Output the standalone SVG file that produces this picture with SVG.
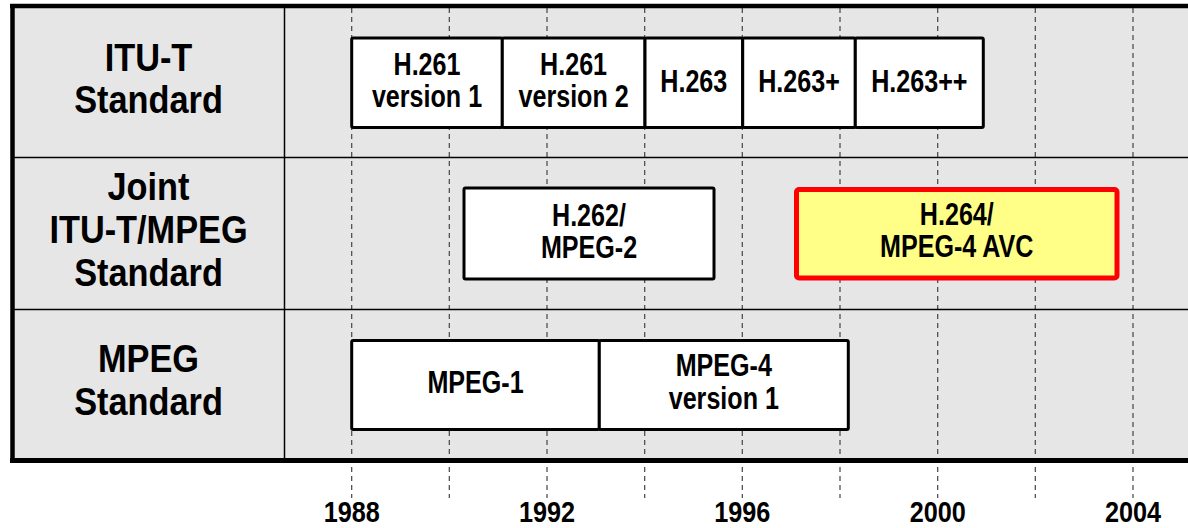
<svg xmlns="http://www.w3.org/2000/svg" width="1188" height="528" viewBox="0 0 1188 528">
<style>
.t{font-family:"Liberation Sans",Arial,sans-serif;font-weight:bold;fill:#000;text-anchor:middle}
.lab{font-size:39px}
.bx{font-size:31px}
.yr{font-size:29px}
.box{fill:#fff;stroke:#000;stroke-width:3}
.grid{stroke:#444;stroke-width:1.2;stroke-dasharray:5 4;fill:none}
.rule{stroke:#000;stroke-width:1.5;fill:none}
</style>
<rect x="13" y="6" width="1175" height="454" fill="#e6e6e6"/>
<g id="gridlines">
<line class="grid" x1="351.7" y1="8" x2="351.7" y2="498"/>
<line class="grid" x1="449.3" y1="8" x2="449.3" y2="498"/>
<line class="grid" x1="547" y1="8" x2="547" y2="498"/>
<line class="grid" x1="644.7" y1="8" x2="644.7" y2="498"/>
<line class="grid" x1="742.3" y1="8" x2="742.3" y2="498"/>
<line class="grid" x1="840" y1="8" x2="840" y2="498"/>
<line class="grid" x1="937.7" y1="8" x2="937.7" y2="498"/>
<line class="grid" x1="1035.3" y1="8" x2="1035.3" y2="498"/>
<line class="grid" x1="1133" y1="8" x2="1133" y2="498"/>
</g>
<g id="frame">
<line class="rule" x1="13" y1="157.5" x2="1188" y2="157.5"/>
<line class="rule" x1="13" y1="309.5" x2="1188" y2="309.5"/>
<line class="rule" x1="284.5" y1="8" x2="284.5" y2="460"/>
<line x1="10" y1="6" x2="1188" y2="6" stroke="#000" stroke-width="4.5"/>
<line x1="10" y1="460.5" x2="1188" y2="460.5" stroke="#000" stroke-width="5"/>
<line x1="12.5" y1="4" x2="12.5" y2="463" stroke="#000" stroke-width="4.5"/>
</g>
<g id="row-labels">
<text class="t lab" transform="matrix(0.88,0,0,1,148.5,0)"><tspan x="0" y="71">ITU-T</tspan><tspan x="0" y="113">Standard</tspan></text>
<text class="t lab" transform="matrix(0.88,0,0,1,148.5,0)"><tspan x="0" y="200">Joint</tspan><tspan x="0" y="243">ITU-T/MPEG</tspan><tspan x="0" y="286">Standard</tspan></text>
<text class="t lab" transform="matrix(0.88,0,0,1,148.5,0)"><tspan x="0" y="372">MPEG</tspan><tspan x="0" y="415">Standard</tspan></text>
</g>
<g id="h261v1">
<rect class="box" x="351.7" y="38" width="150.6" height="89.5" rx="1.5"/>
<text class="t bx" transform="matrix(0.81,0,0,1,427,0)"><tspan x="0" y="75">H.261</tspan><tspan x="0" y="107.5">version 1</tspan></text>
</g>
<g id="h261v2">
<rect class="box" x="502.3" y="38" width="142.7" height="89.5" rx="1.5"/>
<text class="t bx" transform="matrix(0.81,0,0,1,573.6,0)"><tspan x="0" y="75">H.261</tspan><tspan x="0" y="107.5">version 2</tspan></text>
</g>
<g id="h263">
<rect class="box" x="645" y="38" width="97.7" height="89.5" rx="1.5"/>
<text class="t bx" transform="matrix(0.81,0,0,1,693.8,0)" x="0" y="92">H.263</text>
</g>
<g id="h263p">
<rect class="box" x="742.7" y="38" width="112.6" height="89.5" rx="1.5"/>
<text class="t bx" transform="matrix(0.81,0,0,1,799,0)" x="0" y="92">H.263+</text>
</g>
<g id="h263pp">
<rect class="box" x="855.3" y="38" width="128" height="89.5" rx="1.5"/>
<text class="t bx" transform="matrix(0.81,0,0,1,919.3,0)" x="0" y="92">H.263++</text>
</g>
<g id="h262">
<rect class="box" x="464" y="188" width="250" height="91" rx="1.5"/>
<text class="t bx" transform="matrix(0.81,0,0,1,589,0)"><tspan x="0" y="226">H.262/</tspan><tspan x="0" y="258.5">MPEG-2</tspan></text>
</g>
<g id="h264">
<rect x="796.5" y="189.5" width="320.5" height="88.5" rx="2.5" fill="#ffff88" stroke="#ff0000" stroke-width="5"/>
<text class="t bx" transform="matrix(0.81,0,0,1,956.8,0)"><tspan x="0" y="225">H.264/</tspan><tspan x="0" y="257.5">MPEG-4 AVC</tspan></text>
</g>
<g id="mpeg1">
<rect class="box" x="351.7" y="340.5" width="247.6" height="89" rx="1.5"/>
<text class="t bx" transform="matrix(0.81,0,0,1,475.5,0)" x="0" y="393">MPEG-1</text>
</g>
<g id="mpeg4v1">
<rect class="box" x="599.3" y="340.5" width="249" height="89" rx="1.5"/>
<text class="t bx" transform="matrix(0.81,0,0,1,723.8,0)"><tspan x="0" y="376">MPEG-4</tspan><tspan x="0" y="409.5">version 1</tspan></text>
</g>
<g id="years">
<text class="t yr" transform="matrix(0.87,0,0,1,351.7,0)" x="0" y="522">1988</text>
<text class="t yr" transform="matrix(0.87,0,0,1,547,0)" x="0" y="522">1992</text>
<text class="t yr" transform="matrix(0.87,0,0,1,742.3,0)" x="0" y="522">1996</text>
<text class="t yr" transform="matrix(0.87,0,0,1,937.7,0)" x="0" y="522">2000</text>
<text class="t yr" transform="matrix(0.87,0,0,1,1133,0)" x="0" y="522">2004</text>
</g>
</svg>
